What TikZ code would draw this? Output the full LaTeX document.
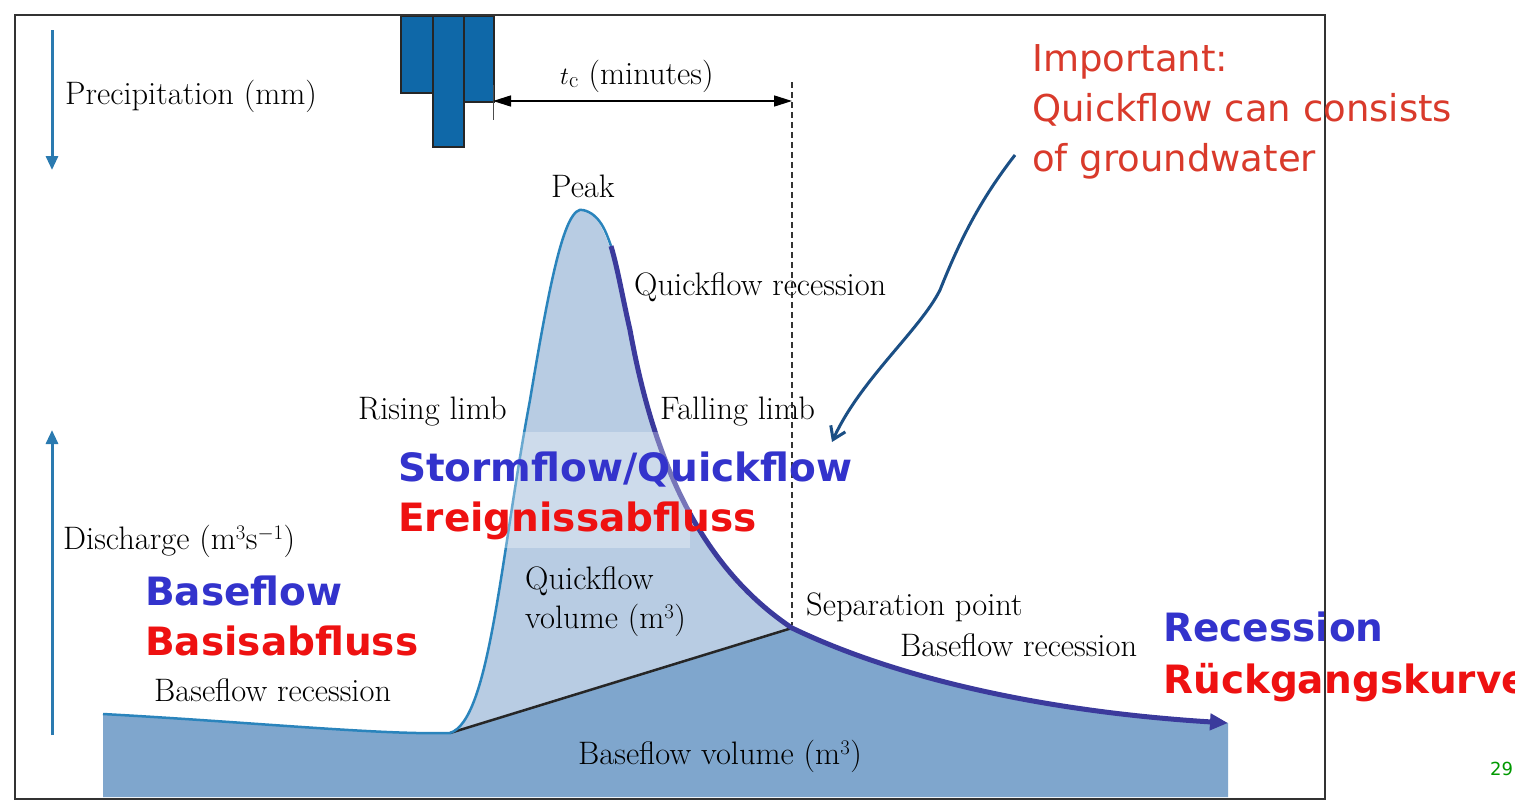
\documentclass[tikz,border=0pt]{standalone}
\usepackage{fontspec}
\newfontfamily\sans{DejaVu Sans}
\usetikzlibrary{arrows.meta}
\definecolor{bar}{HTML}{0F68A8}
\definecolor{qf}{HTML}{B8CCE3}
\definecolor{bf}{HTML}{7FA6CD}
\definecolor{rise}{HTML}{2A84BC}
\definecolor{fall}{HTML}{3B3A9C}
\definecolor{lblue}{HTML}{3333CC}
\definecolor{lred}{HTML}{EE1111}
\definecolor{imp}{HTML}{D93A2B}
\definecolor{hand}{HTML}{1B4F85}
\definecolor{axis}{HTML}{2A7AB0}
\begin{document}
\begin{tikzpicture}[x=1pt,y=-1pt,
  lab/.style={font=\fontsize{32.5}{35}\selectfont,anchor=base west,inner sep=0},
  big/.style={font=\sans\bfseries\fontsize{39}{42}\selectfont,anchor=base west,inner sep=0},
  barst/.style={fill=bar,draw=black!85,line width=1.5pt}]
\useasboundingbox (0,0) rectangle (1515,803);
\fill[white] (0,0) rectangle (1515,803);
% areas
\fill[bf] (103,714) .. controls (250,722) and (380,735) .. (450,733) -- (792,628)
  .. controls (900,680) and (1050,712) .. (1228,723) -- (1228,797) -- (103,797) -- cycle;
\fill[qf] (450,733) .. controls (490,720) and (500,560) .. (530,400)
  .. controls (550,280) and (565,205) .. (583,210)
  .. controls (605,215) and (615,260) .. (630,330)
  .. controls (650,440) and (690,560) .. (792,628) -- cycle;
\draw[black!85,line width=2.5pt] (450,733) -- (792,628);
\draw[rise,line width=2.5pt] (103,714) .. controls (250,722) and (380,735) .. (450,733)
  .. controls (490,720) and (500,560) .. (530,400)
  .. controls (550,280) and (565,205) .. (583,210)
  .. controls (600,214) and (606,232) .. (611,246);
\draw[fall,line width=5pt,-{Triangle[length=18pt,width=16pt]}] (611,246)
  .. controls (618,270) and (622,295) .. (630,330)
  .. controls (650,440) and (690,560) .. (792,628)
  .. controls (900,680) and (1050,712) .. (1228,723);
\fill[white,opacity=0.3] (490,432) rectangle (690,548);
% bars
\node[barst,minimum width=32pt,minimum height=77pt,anchor=north west,inner sep=0] (b1) at (400,15) {};
\node[barst,minimum width=31pt,minimum height=131pt,anchor=north west,inner sep=0] (b2) at (432,15) {};
\node[barst,minimum width=30pt,minimum height=86pt,anchor=north west,inner sep=0] (b3) at (463,15) {};
\draw[black!70,line width=1pt] (493,85) -- (493,120);
\draw[black!80,dash pattern=on 6pt off 4pt,line width=1.5pt] (792,82) -- (792,625);
\coordinate (tl) at (493,101); \coordinate (tr) at (792,101);
\draw[black,line width=1.5pt,{Triangle[length=18pt,width=11pt]}-{Triangle[length=18pt,width=11pt]}] (tl) -- (tr);
\node[lab] (tc) at (560,84) {$t_{\mathrm c}$ (minutes)};
% axes
\coordinate (p1) at (52,30); \coordinate (p2) at (52,170);
\draw[axis,line width=3pt,-{Triangle[length=14pt,width=12pt]}] (p1) -- (p2);
\coordinate (d1) at (52,735); \coordinate (d2) at (52,430);
\draw[axis,line width=3pt,-{Triangle[length=14pt,width=12pt]}] (d1) -- (d2);
\node[lab] (pr) at (65,104) {Precipitation (mm)};
\node[lab] (di) at (63,549) {Discharge (m$^3$s$^{-1}$)};
\node[lab] (pk) at (551,197) {Peak};
\node[lab] (qr) at (634,295) {Quickflow recession};
\node[lab] (rl) at (358,419) {Rising limb};
\node[lab] (fl) at (660,419) {Falling limb};
\node[lab] (qv1) at (525,589) {Quickflow};
\node[lab] (qv2) at (525,628) {volume (m$^3$)};
\node[lab] (sp) at (806,615) {Separation point};
\node[lab] (br2) at (900,656) {Baseflow recession};
\node[lab] (br1) at (154,701) {Baseflow recession};
\node[lab] (bv) at (578,764) {Baseflow volume (m$^3$)};
\node[big,text=lblue] (s1) at (398,481) {Stormflow/Quickflow};
\node[big,text=lred] (s2) at (398,531) {Ereignissabfluss};
\node[big,text=lblue] (bb1) at (145,605) {Baseflow};
\node[big,text=lred] (bb2) at (145,655) {Basisabfluss};
\node[big,text=lblue] (r1) at (1163,641) {Recession};
\node[big,text=lred] (r2) at (1163,693) {Rückgangskurve};
\draw[black!80,line width=2pt] (15,15) rectangle (1325,799);
\node[font=\sans\fontsize{37}{50}\selectfont,text=imp,anchor=north west,align=left,inner sep=0] (imp) at (1032,44)
 {Important:\\Quickflow can consists\\of groundwater};
\node[font=\sans\fontsize{18}{20}\selectfont,text=green!60!black,anchor=base west,inner sep=0] (pg) at (1490,775) {29};
\coordinate (h1) at (1015,155); \coordinate (h2) at (832,442);
\draw[hand,line width=3pt,-{Straight Barb[length=12pt,width=16pt]}] (h1)
  .. controls (980,200) and (960,240) .. (940,290)
  .. controls (920,330) and (860,380) .. (h2);
\end{tikzpicture}
\end{document}
